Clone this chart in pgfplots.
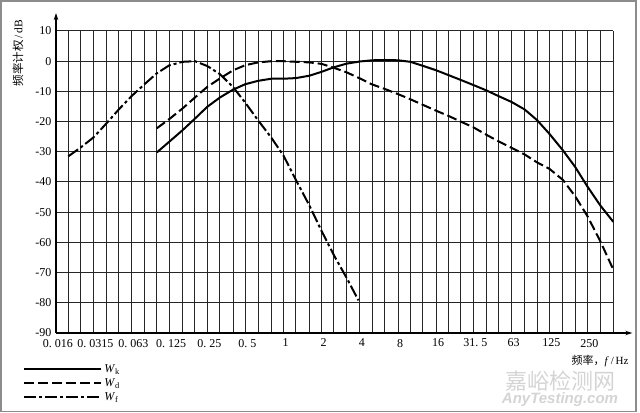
\documentclass[border=0pt]{standalone}
\usepackage{fontspec}
\setmainfont{Liberation Serif}
\newfontfamily\cjk{Noto Sans CJK SC}
\newfontfamily\wmsans{Liberation Sans}
\usepackage{pgfplots}
\usepackage{pgfplotstable}
\pgfplotsset{compat=1.18}
\usetikzlibrary{arrows.meta}

\pgfplotstableread{
f dB
0.1 -30.2
0.125 -26.7
0.16 -22.8
0.2 -19.0
0.25 -15.1
0.315 -12.0
0.4 -9.4
0.5 -7.6
0.63 -6.5
0.8 -5.8
1 -5.8
1.25 -5.6
1.6 -4.8
2 -3.5
2.5 -2.0
3.15 -0.8
4 -0.1
5 0.3
6.3 0.4
8 0.3
10 -0.2
12.5 -1.5
16 -3.0
20 -4.6
25 -6.2
31.5 -7.9
40 -9.7
50 -11.6
63 -13.5
80 -16.0
100 -19.5
125 -24.0
160 -29.5
200 -35.0
250 -41.5
315 -47.7
400 -53.2
}\tabWk

\pgfplotstableread{
f dB
0.1 -22.2
0.125 -19.2
0.16 -15.6
0.2 -12.0
0.25 -8.5
0.315 -5.7
0.4 -3.0
0.5 -1.3
0.63 -0.4
0.8 0
1 0
1.25 -0.2
1.6 -0.4
2 -0.9
2.5 -2.2
3.15 -3.7
4 -5.7
5 -7.7
6.3 -9.2
8 -10.9
10 -12.6
12.5 -14.4
16 -16.4
20 -18.1
25 -20.0
31.5 -21.9
40 -24.4
50 -26.6
63 -28.7
80 -30.9
100 -33.5
125 -35.6
160 -39.3
200 -44.7
250 -51.3
315 -59.5
400 -69.0
}\tabWd

\pgfplotstableread{
f dB
0.02 -31.5
0.025 -28.6
0.0315 -25.3
0.04 -20.6
0.05 -16.0
0.063 -11.6
0.08 -7.6
0.1 -4.0
0.125 -1.4
0.16 -0.2
0.2 0
0.25 -1.6
0.315 -4.3
0.4 -8.6
0.5 -13.8
0.63 -19.6
0.8 -25.3
1 -31.3
1.25 -39.3
1.6 -47.8
2 -56.3
2.5 -64.3
3.15 -71.8
3.9 -79.2
}\tabWf

\begin{document}
\begin{tikzpicture}
\useasboundingbox (-56bp,-80bp) rectangle (584bp,333bp);
\draw[black!45, line width=1.5bp] (-55bp,-78.5bp) rectangle (580bp,332bp);
\begin{axis}[
  scale only axis, width=557.3bp, height=302bp,
  xmode=log, xmin=0.016, xmax=400, ymin=-90, ymax=10,
  axis lines=left,
  x axis line style={-{Stealth[length=7bp,width=4.5bp]}, shorten >=-19bp, line width=1.1bp},
  y axis line style={-{Stealth[length=7bp,width=4.5bp]}, shorten >=-18bp, line width=1.1bp},
  xtick={0.016,0.0315,0.063,0.125,0.25,0.5,1,2,4,8,16,31.5,63,125,250},
  xticklabels={0.\hspace{0.25em}016,0.\hspace{0.25em}0315,0.\hspace{0.25em}063,0.\hspace{0.25em}125,0.\hspace{0.25em}25,0.\hspace{0.25em}5,1,2,4,8,16,31.\hspace{0.25em}5,63,125,250},
  minor xtick={0.02,0.025,0.04,0.05,0.08,0.1,0.16,0.2,0.315,0.4,0.63,0.8,1.25,1.6,2.5,3.15,5,6.3,10,12.5,20,25,40,50,80,100,160,200,315,400},
  ytick={-90,-80,-70,-60,-50,-40,-30,-20,-10,0,10},
  yticklabels={-90,-80,-70,-60,-50,-40,-30,-20,-10,0,10},
  grid=both,
  major grid style={black!85, line width=1bp},
  minor grid style={black!85, line width=1bp},
  major tick length=0pt, minor tick length=0pt,
  tick label style={font=\fontsize{12bp}{14bp}\selectfont},
  xticklabel style={yshift=-2.5bp, xshift=2bp},
  yticklabel style={xshift=-1bp},
  xlabel={{\cjk 频率，}\textit{f}\,/\,Hz},
  xlabel style={at={(axis description cs:1.0336,-0.0927)}, anchor=east, font=\fontsize{11bp}{13bp}\selectfont},
  ylabel={{\cjk 频率计权}\,/\,dB},
  ylabel style={at={(axis description cs:-0.068,0.927)}, anchor=center, font=\fontsize{11.5bp}{13bp}\selectfont},
  legend image code/.code={\draw[#1] (0bp,0bp) -- (77bp,0bp);},
  legend style={at={(axis description cs:-0.059,-0.098)}, anchor=north west, draw=none, fill=none,
    inner sep=0pt, row sep=0.5bp, font=\fontsize{12bp}{14bp}\selectfont, cells={anchor=west}},
]
\addplot[black, line width=2bp, line join=round] table[x=f,y=dB]{\tabWk};
\addlegendentry{\textit{W}\textsubscript{k}}
\addplot[black, line width=2bp, dash pattern=on 10bp off 4bp] table[x=f,y=dB]{\tabWd};
\addlegendentry{\textit{W}\textsubscript{d}}
\addplot[black, line width=2bp, dash pattern=on 12bp off 3bp on 3bp off 3bp] table[x=f,y=dB]{\tabWf};
\addlegendentry{\textit{W}\textsubscript{f}}
\end{axis}
\node[text=black!17, font=\cjk\fontsize{22bp}{22bp}\selectfont, inner sep=0pt] at (504bp,-48bp) {嘉峪检测网};
\node[text=black!17, font=\wmsans\itshape\bfseries\fontsize{15bp}{15bp}\selectfont, inner sep=0pt] at (504bp,-67bp) {AnyTesting.com};
\end{tikzpicture}
\end{document}
